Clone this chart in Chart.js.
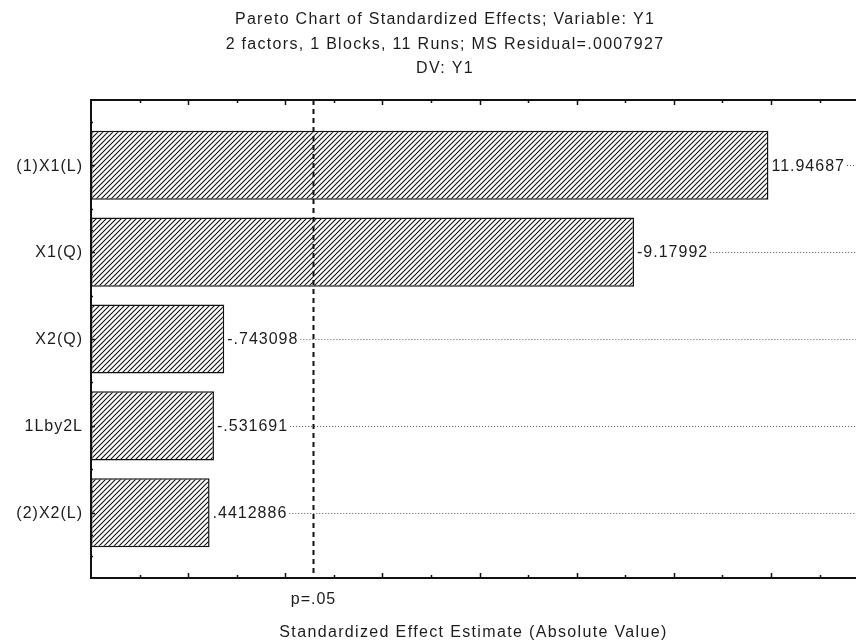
<!DOCTYPE html>
<html>
<head>
<meta charset="utf-8">
<script src="https://cdn.jsdelivr.net/npm/chart.js@4/dist/chart.umd.min.js"></script>
<style>
  html, body { margin: 0; padding: 0; background: #ffffff; }
  #wrap { width: 856px; height: 641px; }
</style>
</head>
<body>
<div id="wrap"><canvas id="pareto" width="856" height="641"></canvas></div>
<script>
// Effects, sorted by absolute standardized effect
const effectNames = ['(1)X1(L)', 'X1(Q)', 'X2(Q)', '1Lby2L', '(2)X2(L)'];
// Signed estimates as printed beside each bar
const effectLabels = ['11.94687', '-9.17992', '-.743098', '-.531691', '.4412886'];
// Bar lengths are the absolute values of those estimates
const effectValues = effectLabels.map(s => Math.abs(parseFloat(s)));

// Critical t value (alpha = .05, 5 residual df)
const tCritical = 2.5706;
const tCriticalLabel = 'p=.05';

// Horizontal axis range and tick values
const xMin = -2;
const xMax = 13.75;
const xTicks = [-1, 0, 1, 2, 3, 4, 5, 6, 7, 8, 9, 10, 11, 12, 13];

const titleLines = [
  'Pareto Chart of Standardized Effects; Variable: Y1',
  '2 factors, 1 Blocks, 11 Runs; MS Residual=.0007927',
  'DV: Y1'
];
const xTitle = 'Standardized Effect Estimate (Absolute Value)';

const FONT = '"Liberation Sans", Arial, sans-serif';
const INK = '#1c1c1c';

// Diagonal hatch fill for the bars
function makeHatch() {
  const s = 5;
  const c = document.createElement('canvas');
  c.width = s; c.height = s;
  const g = c.getContext('2d');
  g.fillStyle = '#ffffff';
  g.fillRect(0, 0, s, s);
  g.strokeStyle = '#111111';
  g.lineWidth = 1.1;
  g.beginPath();
  g.moveTo(-1, s + 1); g.lineTo(s + 1, -1);
  g.moveTo(-1, 1); g.lineTo(1, -1);
  g.moveTo(s - 1, s + 1); g.lineTo(s + 1, s - 1);
  g.stroke();
  return g.createPattern(c, 'repeat');
}

// Frame, inward ticks, reference line, value labels and all text
const decorations = {
  id: 'paretoDecor',
  afterDatasetsDraw(chart) {
    const { ctx, chartArea: a, scales: { x, y } } = chart;
    const meta = chart.getDatasetMeta(0);
    ctx.save();

    // dotted leader lines and value labels
    ctx.font = '16px ' + FONT;
    ctx.letterSpacing = '1px';
    ctx.textBaseline = 'middle';
    ctx.textAlign = 'left';
    meta.data.forEach((bar, i) => {
      const tx = bar.x + 3;
      const ty = bar.y;
      const w = ctx.measureText(effectLabels[i]).width;
      ctx.fillStyle = INK;
      ctx.fillText(effectLabels[i], tx, ty + 1);
      ctx.save();
      ctx.strokeStyle = '#555555';
      ctx.lineWidth = 1;
      ctx.setLineDash([1, 2]);
      ctx.beginPath();
      ctx.moveTo(tx + w + 2, Math.round(ty) + 0.5);
      ctx.lineTo(a.right, Math.round(ty) + 0.5);
      ctx.stroke();
      ctx.restore();
    });

    // critical value line
    const px = Math.round(x.getPixelForValue(tCritical)) + 0.5;
    ctx.strokeStyle = '#111111';
    ctx.lineWidth = 2;
    ctx.setLineDash([5, 4]);
    ctx.beginPath();
    ctx.moveTo(px, a.top);
    ctx.lineTo(px, a.bottom);
    ctx.stroke();
    ctx.setLineDash([]);

    // frame (top, left, bottom)
    ctx.strokeStyle = '#111111';
    ctx.lineWidth = 2;
    ctx.beginPath();
    ctx.moveTo(a.right, a.top);
    ctx.lineTo(a.left, a.top);
    ctx.lineTo(a.left, a.bottom);
    ctx.lineTo(a.right, a.bottom);
    ctx.stroke();

    // inward ticks on top and bottom
    ctx.lineWidth = 1.5;
    xTicks.forEach(v => {
      const tx = Math.round(x.getPixelForValue(v)) + 0.5;
      const len = v % 2 === 0 ? 5 : 3;
      ctx.beginPath();
      ctx.moveTo(tx, a.bottom);
      ctx.lineTo(tx, a.bottom - len);
      ctx.moveTo(tx, a.top);
      ctx.lineTo(tx, a.top + len);
      ctx.stroke();
    });
    // inward ticks on the left
    for (let v = -0.5; v <= 4.5; v += 0.25) {
      const ty = Math.round(y.getPixelForValue(v)) + 0.5;
      const len = Number.isInteger(v) ? 4 : 2;
      ctx.beginPath();
      ctx.moveTo(a.left, ty);
      ctx.lineTo(a.left + len, ty);
      ctx.stroke();
    }

    // category labels
    ctx.fillStyle = INK;
    ctx.font = '16px ' + FONT;
    ctx.letterSpacing = '1px';
    ctx.textAlign = 'right';
    ctx.textBaseline = 'middle';
    effectNames.forEach((name, i) => {
      ctx.fillText(name, a.left - 8, y.getPixelForValue(i) + 1);
    });

    // p=.05 label under the critical line
    ctx.textAlign = 'center';
    ctx.fillText(tCriticalLabel, px, 600);

    // axis title
    ctx.letterSpacing = '1.35px';
    ctx.fillText(xTitle, (a.left + a.right) / 2, 633);

    // chart titles
    ctx.font = '16px ' + FONT;
    ctx.letterSpacing = '1.3px';
    [20, 45, 69].forEach((ty, i) => {
      ctx.fillText(titleLines[i], 445, ty);
    });

    ctx.restore();
  }
};

new Chart(document.getElementById('pareto'), {
  type: 'bar',
  data: {
    datasets: [{
      data: effectValues.map((v, i) => ({ x: v, y: i })),
      base: xMin,
      backgroundColor: makeHatch(),
      borderColor: '#111111',
      borderWidth: 1.5,
      borderSkipped: false,
      barPercentage: 0.795,
      categoryPercentage: 1
    }]
  },
  options: {
    indexAxis: 'y',
    responsive: false,
    animation: false,
    devicePixelRatio: 1,
    layout: { padding: { left: 91, top: 100, right: 0, bottom: 63 } },
    plugins: {
      legend: { display: false },
      tooltip: { enabled: false },
      title: { display: false }
    },
    scales: {
      x: { type: 'linear', min: xMin, max: xMax, display: false },
      y: {
        type: 'linear', min: -0.75, max: 4.75, reverse: true, display: false,
        offset: false,
        ticks: { stepSize: 1, includeBounds: false }
      }
    }
  },
  plugins: [decorations]
});
</script>
</body>
</html>
